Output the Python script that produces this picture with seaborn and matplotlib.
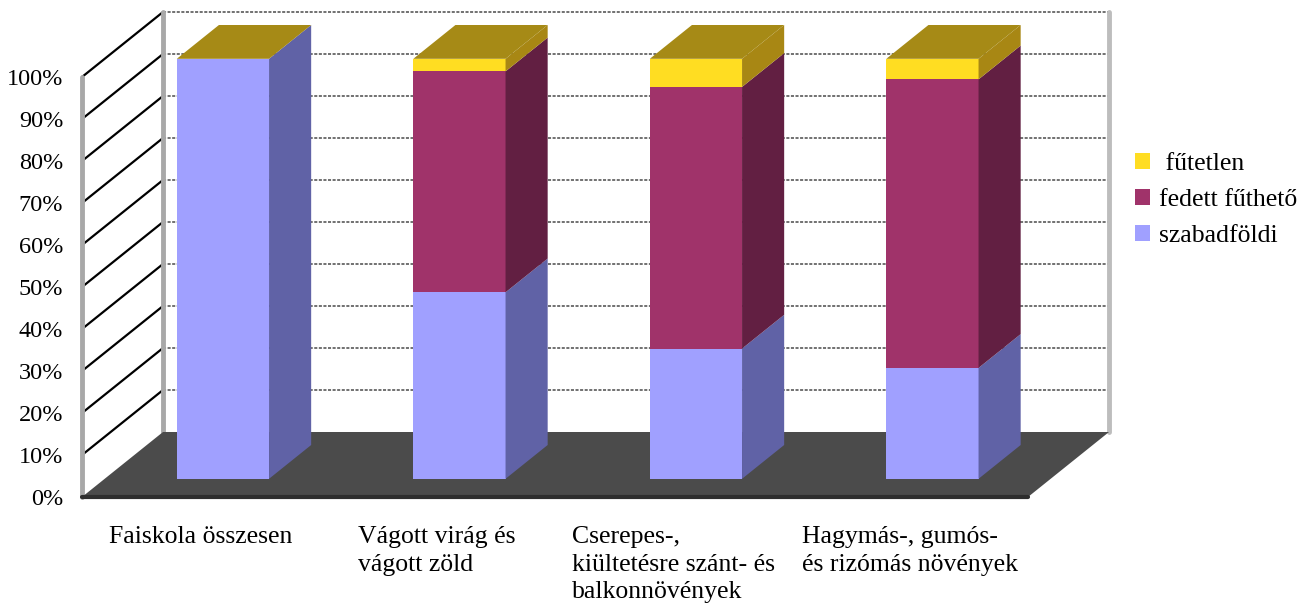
import matplotlib
matplotlib.use("Agg")
import matplotlib.pyplot as plt
import matplotlib.transforms as mtransforms
from matplotlib.lines import Line2D
from matplotlib.patches import Polygon
import pandas as pd
import seaborn as sns

# data (percent shares)
categories = [
    "Faiskola összesen",
    "Vágott virág és\nvágott zöld",
    "Cserepes-,\nkiültetésre szánt- és\nbalkonnövények",
    "Hagymás-, gumós-\nés rizómás növények",
]
szabadfoldi = [100.0, 44.4, 31.0, 26.4]
fedett_futheto = [0.0, 52.6, 62.3, 68.7]
futetlen = [0.0, 3.0, 6.7, 4.9]
series_labels = ["szabadföldi", "fedett fűthető", " fűtetlen"]
yticks = list(range(0, 101, 10))
ytick_labels = [f"{v}%" for v in yticks]

FRONT = ["#A0A0FF", "#A0336A", "#FFDD22"]
SIDE = ["#6062A6", "#621F42", "#A88714"]
LID = "#A68A16"
FLOOR = "#4B4B4B"
DEPTH = (81, 65)          # px shift from front plane to back wall
BAR_F0, BAR_F1 = 0.28, 0.80
TICK_SIZE = 17.5
LABEL_SIZE = 18.5

sns.set_theme(style="white")
plt.rcParams["font.family"] = ["Liberation Serif", "DejaVu Serif"]
plt.rcParams.update({"text.color": "black", "xtick.color": "black",
                     "ytick.color": "black"})

W, H = 1313, 610
fig = plt.figure(figsize=(W / 100, H / 100), dpi=100)
ax = fig.add_axes([82 / W, 113 / H, 946 / W, 420 / H])
ax.set_facecolor("none")

df = pd.DataFrame({"kategoria": categories,
                   "szab": szabadfoldi,
                   "fedett": fedett_futheto,
                   "fut": futetlen})
df["mid"] = df["szab"] + df["fedett"]
df["top"] = df["mid"] + df["fut"]

# stacked bars: tallest first, then overlay the lower parts
layers = [("top", FRONT[2], series_labels[2]),
          ("mid", FRONT[1], series_labels[1]),
          ("szab", FRONT[0], series_labels[0])]
bar_patches = {}
for col, color, label in layers:
    n0 = len(ax.patches)
    sns.barplot(data=df, x="kategoria", y=col, color=color, saturation=1,
                width=0.39, linewidth=0, errorbar=None, label=label,
                zorder=5, ax=ax)
    bar_patches[col] = ax.patches[n0:]

ax.set_xlim(-0.5, 3.5)
ax.set_ylim(0, 100)
ax.set_xlabel("")
ax.set_ylabel("")
for s in ax.spines.values():
    s.set_visible(False)

# push bar fronts back into the "3d" box
off = mtransforms.ScaledTranslation(BAR_F0 * DEPTH[0] / 100, BAR_F0 * DEPTH[1] / 100,
                                    fig.dpi_scale_trans)
for patches in bar_patches.values():
    for p in patches:
        p.set_transform(ax.transData + off)
        p.set_clip_on(False)

ident = mtransforms.IdentityTransform()


def P(x, y, f):
    px, py = ax.transData.transform((x, y))
    return (px + f * DEPTH[0], py + f * DEPTH[1])


def line(a, b, **kw):
    ax.add_line(Line2D([a[0], b[0]], [a[1], b[1]], transform=ident, clip_on=False, **kw))


def poly(pts, color, z):
    ax.add_patch(Polygon(pts, closed=True, facecolor=color, edgecolor="none",
                         transform=ident, clip_on=False, zorder=z))


# back wall gridlines and left wall diagonals
for v in yticks[1:]:
    line(P(-0.5, v, 1), P(3.5, v, 1), color="#4A4A4A", lw=1.1,
         linestyle=(0, (2, 1)), zorder=1)
    line(P(-0.5, v, 0), P(-0.5, v, 1), color="black", lw=1.6, zorder=1)
line(P(-0.5, 0, 0), P(-0.5, 100, 0), color="#A8A8A8", lw=3.5, zorder=1)
line(P(-0.5, 0, 1), P(-0.5, 100, 1), color="#A8A8A8", lw=3.5, zorder=1)
line(P(3.5, 0, 1), P(3.5, 100, 1), color="#BDBDBD", lw=3.5, zorder=1)

# floor
poly([P(-0.5, 0, 0), P(3.5, 0, 0), P(3.5, 0, 1), P(-0.5, 0, 1)], FLOOR, 2)
line(P(-0.5, 0, 0), P(3.5, 0, 0), color="#2E2E2E", lw=3, zorder=2)

# bar side faces and top lids
segments = [("szab", 0), ("mid", 1), ("top", 2)]
for i in range(len(categories)):
    base = 0.0
    for col, k in segments:
        p = bar_patches[col][i]
        top = p.get_height()
        xr = p.get_x() + p.get_width()
        if top - base > 0:
            poly([P(xr, base, BAR_F0), P(xr, top, BAR_F0),
                  P(xr, top, BAR_F1), P(xr, base, BAR_F1)], SIDE[k], 5)
        base = top
    p = bar_patches["top"][i]
    xl, xr, top = p.get_x(), p.get_x() + p.get_width(), p.get_height()
    poly([P(xl, top, BAR_F0), P(xr, top, BAR_F0),
          P(xr, top, BAR_F1), P(xl, top, BAR_F1)], LID, 6)

# ticks
ax.set_yticks(yticks, labels=ytick_labels)
ax.tick_params(axis="y", length=0, pad=13.5, labelsize=TICK_SIZE, labelcolor="black")
ax.set_xticks(range(len(categories)), labels=categories)
ax.tick_params(axis="x", length=0, pad=21, labelsize=LABEL_SIZE, labelcolor="black")
for t in ax.get_xticklabels():
    t.set_multialignment("left")
    t.set_linespacing(1.33)

leg = ax.legend(loc="upper left", bbox_to_anchor=(1135 / W, (H - 153) / H),
                bbox_transform=fig.transFigure, frameon=False, fontsize=LABEL_SIZE,
                handlelength=0.58, handleheight=0.58, handletextpad=0.35,
                labelspacing=0.55, borderpad=0, borderaxespad=0)
for t in leg.get_texts():
    t.set_color("black")

fig.savefig("out.png", dpi=100)
